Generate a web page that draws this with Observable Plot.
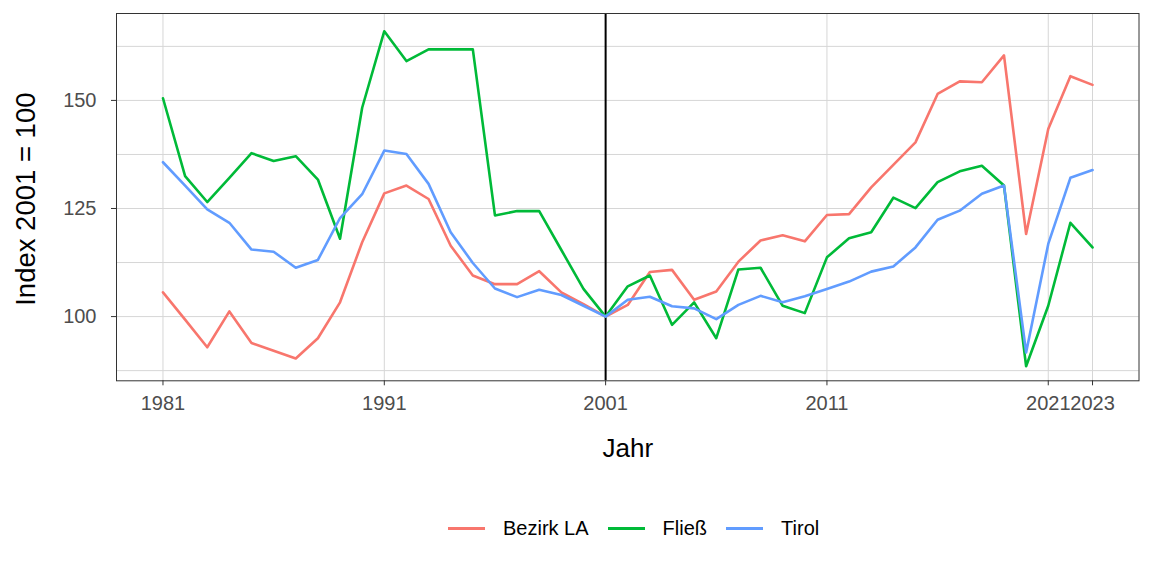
<!DOCTYPE html>
<html>
<head>
<meta charset="utf-8">
<script src="https://cdn.jsdelivr.net/npm/d3@7"></script>
<script src="https://cdn.jsdelivr.net/npm/@observablehq/plot@0.6"></script>
<style>
  body { margin: 0; background: #fff; font-family: "Liberation Sans", Arial, sans-serif; }
  #chart { width: 1152px; height: 576px; position: relative; }
  #legend { position: absolute; top: 514px; left: 448px; display: flex; align-items: center; font-size: 20px; color: #000; line-height: 28px; }
  .item { display: flex; align-items: center; margin-right: 19px; }
  .sw { width: 37px; height: 3px; margin-right: 18px; }
</style>
</head>
<body>
<div id="chart"></div>
<script>
const years = d3.range(1981, 2024);
const seriesNames = ["Bezirk LA", "Fließ", "Tirol"];
const seriesColors = ["#F8766D", "#00BA38", "#619CFF"];
const bezirkLA = [105.6, 99.3, 92.9, 101.2, 93.9, 92.1, 90.3, 95.0, 103.3, 117.2,
  128.5, 130.3, 127.2, 116.4, 109.5, 107.5, 107.5, 110.5, 105.6, 102.9,
  100, 102.7, 110.3, 110.8, 103.9, 105.8, 112.7, 117.6, 118.8, 117.4,
  123.5, 123.7, 129.9, 135.1, 140.3, 151.5, 154.4, 154.2, 160.4, 119.1,
  143.4, 155.6, 153.6];
const fliess = [150.5, 132.5, 126.5, 132.1, 137.8, 136.0, 137.1, 131.7, 118.0, 148.3,
  166.0, 159.1, 161.8, 161.8, 161.8, 123.4, 124.4, 124.4, 115.4, 106.4,
  100, 107.0, 109.5, 98.1, 103.3, 95.0, 110.9, 111.3, 102.5, 100.8,
  113.7, 118.1, 119.5, 127.5, 125.1, 131.1, 133.6, 134.9, 130.3, 88.5,
  102.5, 121.7, 116.0];
const tirol = [135.7, 130.3, 124.8, 121.7, 115.5, 115.0, 111.3, 113.1, 122.8, 128.3,
  138.4, 137.6, 130.7, 119.5, 112.4, 106.5, 104.5, 106.2, 105.0, 102.5,
  100, 103.9, 104.6, 102.4, 101.9, 99.4, 102.7, 104.8, 103.3, 104.7,
  106.4, 108.1, 110.4, 111.6, 116.0, 122.4, 124.5, 128.4, 130.3, 91.7,
  116.8, 132.1, 133.9];
const xTicks = [1981, 1991, 2001, 2011, 2021, 2023];
const yTicks = [100, 125, 150];
const yGrid = [87.5, 100, 112.5, 125, 137.5, 150, 162.5];
const refYear = 2001;

const allSeries = [bezirkLA, fliess, tirol];
const data = [];
allSeries.forEach((vals, s) => vals.forEach((v, i) => data.push({year: years[i], value: v, name: seriesNames[s]})));

const plot = Plot.plot({
  width: 1152,
  height: 480,
  marginLeft: 116,
  marginRight: 13.5,
  marginTop: 13,
  marginBottom: 99.7,
  style: {fontFamily: "'Liberation Sans', Arial, sans-serif", background: "#fff"},
  x: {domain: [1978.9, 2025.1]},
  y: {domain: [85.15, 170.1]},
  color: {domain: seriesNames, range: seriesColors},
  marks: [
    Plot.gridY(yGrid, {stroke: "#d6d6d6", strokeOpacity: 1, strokeWidth: 1}),
    Plot.gridX(xTicks, {stroke: "#d6d6d6", strokeOpacity: 1, strokeWidth: 1}),
    Plot.ruleX([refYear], {stroke: "#000", strokeWidth: 2}),
    Plot.line(data, {x: "year", y: "value", z: "name", stroke: "name", strokeWidth: 2.6}),
    Plot.frame({stroke: "#333", strokeWidth: 1}),
    Plot.axisX(xTicks, {tickFormat: d => String(d), tickSize: 5, tickPadding: 10, fontSize: 20, fill: "#4d4d4d", stroke: "#333", label: null}),
    Plot.axisY(yTicks, {tickSize: 5, tickPadding: 15, fontSize: 20, fill: "#4d4d4d", stroke: "#333", label: null}),
    Plot.text(["Jahr"], {frameAnchor: "bottom", dy: 76, fontSize: 26, fill: "#000"}),
    Plot.text(["Index 2001 = 100"], {frameAnchor: "left", dx: -90, dy: 2, rotate: -90, textAnchor: "middle", fontSize: 27.5, fill: "#000"})
  ]
});

const chart = document.getElementById("chart");
chart.appendChild(plot);
const legend = document.createElement("div");
legend.id = "legend";
seriesNames.forEach((n, i) => {
  const it = document.createElement("div");
  it.className = "item";
  const sw = document.createElement("div");
  sw.className = "sw";
  sw.style.background = seriesColors[i];
  const lb = document.createElement("span");
  lb.textContent = n;
  it.appendChild(sw); it.appendChild(lb);
  legend.appendChild(it);
});
chart.appendChild(legend);
</script>
</body>
</html>
